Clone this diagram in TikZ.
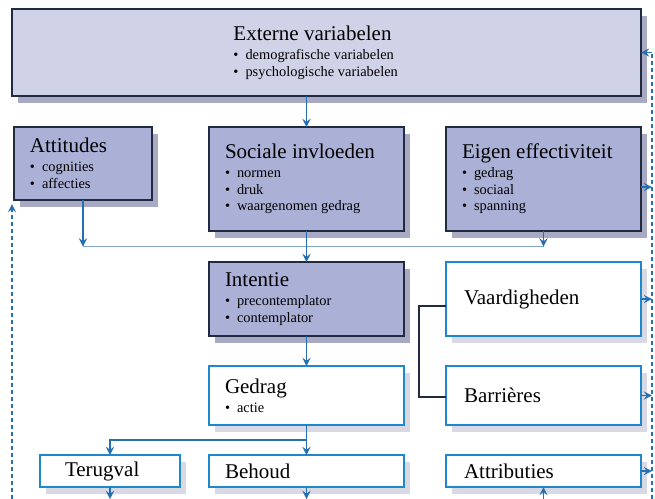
\documentclass[tikz,border=0pt]{standalone}
\usepackage{fontspec}
\setmainfont{Liberation Serif}
\usepackage{tikz}
\usetikzlibrary{shapes, arrows, positioning, shadows, calc}
\definecolor{lilac}{RGB}{170,176,214}
\definecolor{palelilac}{RGB}{208,211,231}
\definecolor{navyline}{RGB}{32,42,64}
\definecolor{flowblue}{RGB}{38,112,178}
\definecolor{edgeblue}{RGB}{30,136,204}
\definecolor{busgrey}{RGB}{130,166,196}
\definecolor{shade}{RGB}{60,66,120}
\newcommand{\head}[1]{\spaceskip=0pt\xspaceskip=0pt#1\par\vspace{1.2pt}}
\newcommand{\bul}[1]{\par\fontsize{7.2}{8.3}\selectfont\spaceskip=0pt\xspaceskip=0pt\textbullet\hspace{3.5pt}#1\par}
\tikzstyle{darkbox} = [rectangle, draw=navyline, line width=0.9pt, fill=lilac, outer sep=0pt, inner xsep=8pt, align=left, font=\fontsize{10.5}{12}\selectfont, drop shadow={shadow xshift=3pt, shadow yshift=-3.5pt, fill=shade, opacity=0.45}]
\tikzstyle{lightbox} = [rectangle, draw=edgeblue, line width=0.9pt, fill=white, outer sep=0pt, inner xsep=9pt, inner ysep=2pt, align=left, font=\fontsize{10.5}{12}\selectfont, drop shadow={shadow xshift=3pt, shadow yshift=-3.5pt, fill=shade, opacity=0.2}]
\tikzstyle{arrow} = [line width=0.8pt, draw=flowblue, ->, >=stealth]
\tikzstyle{feedback} = [line width=0.8pt, draw=flowblue, dash pattern=on 2pt off 1.5pt]
\tikzstyle{bus} = [line width=0.8pt, draw=busgrey]
\tikzstyle{bracket} = [line width=0.6pt, draw=navyline]

\begin{document}
\begin{tikzpicture}[x=0.5pt, y=-0.5pt]
\useasboundingbox (0,0) rectangle (655,499);
\node(ext) [darkbox, fill=palelilac, anchor=north west, minimum width=314.5pt, minimum height=43.5pt, text width=93pt] at (12,9) {\head{Externe variabelen}\bul{demografische variabelen}\bul{psychologische variabelen}};
\node(att) [darkbox, below right=15.5pt and 1pt of ext.south west, minimum width=69pt, minimum height=36.5pt, text width=53pt] {\head{Attitudes}\bul{cognities}\bul{affecties}};
\node(soc) [darkbox, below right=0pt and 28.5pt of att.north east, minimum width=97.5pt, minimum height=52pt, text width=81.5pt] {\head{Sociale invloeden}\bul{normen}\bul{druk}\bul{waargenomen gedrag}};
\node(eig) [darkbox, below right=0pt and 21pt of soc.north east, minimum width=97.5pt, minimum height=52pt, text width=81.5pt] {\head{Eigen effectiviteit}\bul{gedrag}\bul{sociaal}\bul{spanning}};
\node(int) [darkbox, below=15.5pt of soc, minimum width=97.5pt, minimum height=37pt, text width=81.5pt] {\head{Intentie}\bul{precontemplator}\bul{contemplator}};
\node(vaa) [lightbox, right=21pt of int, minimum width=97.5pt, minimum height=37pt, text width=79.5pt] {Vaardigheden};
\node(ged) [lightbox, below=15pt of int, minimum width=97.5pt, minimum height=29.5pt, text width=81.5pt, inner xsep=8pt] {\head{Gedrag}\bul{actie}};
\node(bar) [lightbox, right=21pt of ged, minimum width=97.5pt, minimum height=29.5pt, text width=79.5pt] {Barrières};
\node(beh) [lightbox, below=15pt of ged, minimum width=97.5pt, minimum height=16pt, text width=81.5pt, inner xsep=8pt] {Behoud};
\node(atr) [lightbox, right=21pt of beh, minimum width=97.5pt, minimum height=16pt, text width=79.5pt] {Attributies};
\node(ter) [lightbox, left=14.5pt of beh, minimum width=70pt, minimum height=16pt, text width=45pt, inner xsep=12.5pt] {Terugval};

\coordinate (bus) at ($(soc.south)!0.5!(int.north)$);
\coordinate (split) at ($(ged.south)!0.5!(beh.north)$);
\coordinate (floor) at (0,499);
\coordinate (fbr) at ([xshift=5.5pt]ext.east);
\coordinate (fbl) at ([xshift=-1pt, yshift=-2pt]att.south west);

\draw[arrow] (ext.south -| soc.north) -- (soc.north);
\draw[bus] (att.south |- bus) -- (eig.south |- bus);
\draw[arrow] (att.south) -- (att.south |- bus);
\draw[arrow] (eig.south) -- (eig.south |- bus);
\draw[arrow] (soc.south) -- (int.north);
\draw[arrow] (int.south) -- (ged.north);
\draw[bracket] ([yshift=-3.5pt]vaa.west) -- ++(-27,0) |- ([yshift=-0.75pt]bar.west);
\draw[arrow] (ged.south) -- (beh.north);
\draw[arrow] (split) -| (ter.north);
\draw[arrow] (ter.south) -- (ter.south |- floor);
\draw[arrow] (beh.south) -- (beh.south |- floor);
\draw[arrow] (atr.south |- floor) -- (atr.south);

% feedback lines
\draw[feedback] (fbr |- floor) -- (fbr);
\draw[arrow] (fbr) -- (ext.east);
\draw[arrow] ([yshift=-4pt]eig.east) -- ([yshift=-4pt]eig.east -| fbr);
\draw[arrow] (vaa.east) -- (vaa.east -| fbr);
\draw[arrow] (bar.east) -- (bar.east -| fbr);
\draw[arrow] (atr.east) -- (atr.east -| fbr);
\draw[feedback, ->, >=stealth] (fbl |- floor) -- (fbl);
\end{tikzpicture}
\end{document}
